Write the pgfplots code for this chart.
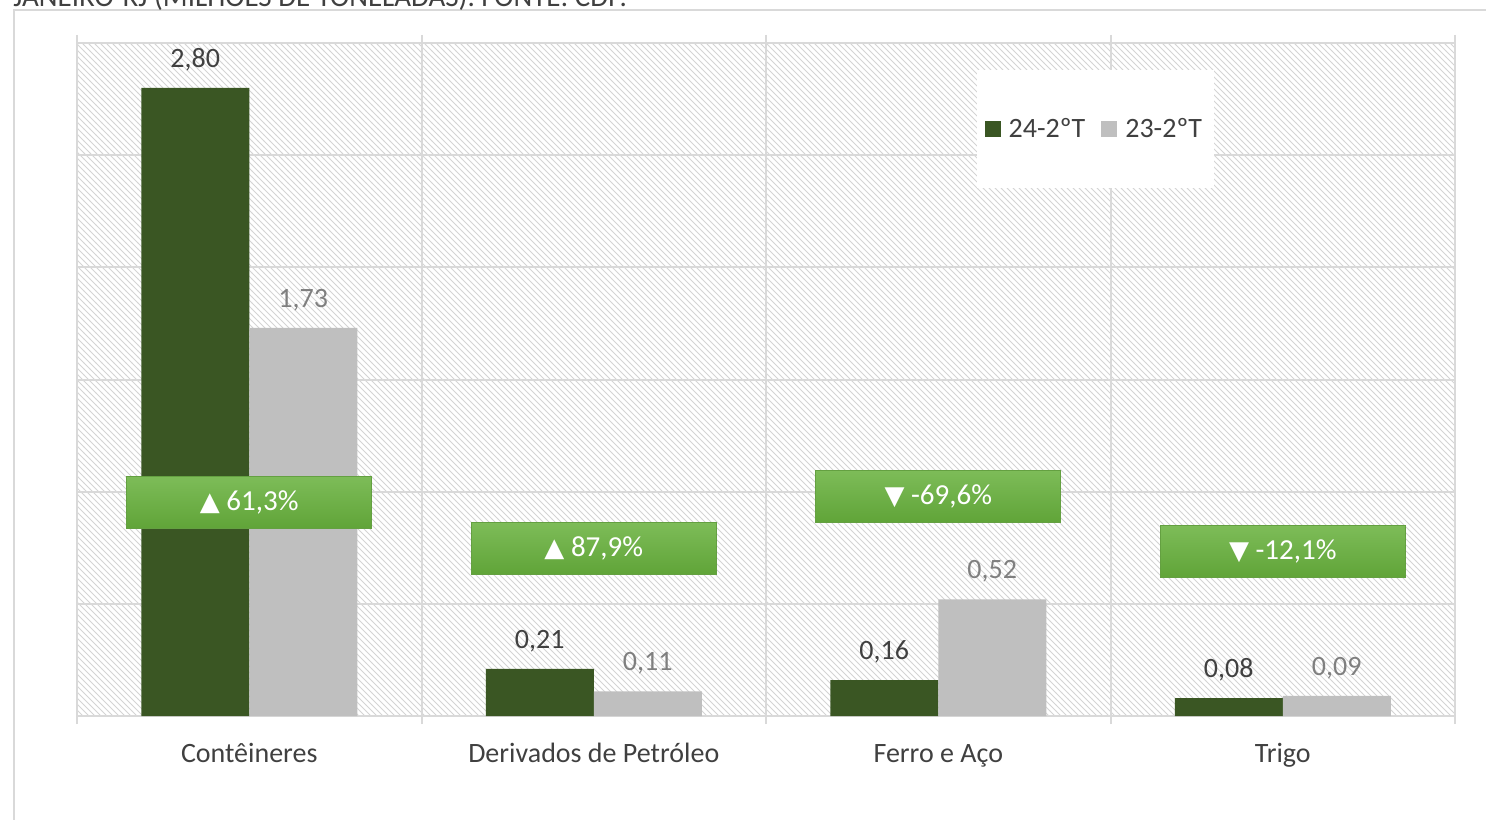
\documentclass[border=0pt]{standalone}
\usepackage{pgfplots}
\pgfplotsset{compat=1.18}
\usepackage{fontspec}
\setmainfont{Carlito}
\newfontfamily\sym{DejaVu Sans}
\usetikzlibrary{patterns}

\definecolor{c1}{RGB}{58,86,35}
\definecolor{c2}{RGB}{191,191,191}
\definecolor{gridc}{RGB}{217,217,217}
\definecolor{hatch}{RGB}{212,212,212}
\definecolor{txt}{RGB}{64,64,64}
\definecolor{txt2}{RGB}{127,127,127}
\definecolor{gtop}{RGB}{125,188,88}
\definecolor{gbot}{RGB}{96,164,56}
\definecolor{gedge}{RGB}{100,160,65}

\begin{document}
\begin{tikzpicture}[
  pct/.style={minimum width=122.5pt, minimum height=26pt, inner sep=0pt,
    top color=gtop, bottom color=gbot, draw=gedge, line width=0.4pt,
    text=white, font=\fontsize{14.5}{16}\selectfont},
]
\begin{axis}[
  scale only axis, width=689pt, height=336.5pt,
  xmin=-0.5, xmax=3.5, ymin=0, ymax=3,
  ybar=0pt, bar width=0.3135,
  clip=false,
  axis background/.style={pattern=north west lines, pattern color=hatch},
  axis line style={gridc, line width=1pt},
  xtick={0,1,2,3},
  xticklabels={Contêineres, Derivados de Petróleo, Ferro e Aço, Trigo},
  major tick length=0pt,
  xticklabel style={anchor=base, yshift=-23pt, text=txt, font=\fontsize{14}{16}\selectfont},
  extra x ticks={-0.5,0.5,1.5,2.5,3.5},
  extra x tick labels={},
  extra x tick style={grid=major, major tick length=4pt, tick align=outside,
    tick style={gridc, line width=1pt}},
  ytick={0,0.5,...,3}, yticklabels={},
  ymajorgrids,
  grid style={gridc, line width=1pt},
  nodes near coords,
  nodes near coords style={font=\fontsize{14}{16}\selectfont, anchor=center, yshift=14pt,
    /pgf/number format/fixed, /pgf/number format/fixed zerofill,
    /pgf/number format/precision=2, /pgf/number format/use comma,
    /pgf/number format/assume math mode=true},
  legend columns=2,
  legend style={at={(0.739,0.872)}, anchor=center, draw=none, fill=white,
    inner xsep=4pt, inner ysep=22pt, font=\fontsize{14}{16}\selectfont,
    text=txt, /tikz/every odd column/.append style={column sep=2pt},
    /tikz/every even column/.append style={column sep=6pt}},
  legend image code/.code={\path[#1, draw=none] (0pt,-4pt) rectangle (8pt,4pt);},
]
\addplot[fill=c1, draw=none, every node near coord/.append style={text=txt}]
  coordinates {(0,2.80)(1,0.21)(2,0.16)(3,0.08)};
\addplot[fill=c2, draw=none, every node near coord/.append style={text=txt2}]
  coordinates {(0,1.73)(1,0.11)(2,0.52)(3,0.09)};
\legend{24-2ºT, 23-2ºT}

\node[pct] at (axis cs:0,0.951) {{\sym\fontsize{13}{14}\selectfont ▲}\ 61,3\%};
\node[pct] at (axis cs:1,0.746) {{\sym\fontsize{13}{14}\selectfont ▲}\ 87,9\%};
\node[pct] at (axis cs:2,0.978) {{\sym\fontsize{13}{14}\selectfont ▼}\ -69,6\%};
\node[pct] at (axis cs:3,0.732) {{\sym\fontsize{13}{14}\selectfont ▼}\ -12,1\%};
\end{axis}
% outer frame and the caption above it, cut at the top as in the source
\draw[gridc, line width=0.8pt]
  ([xshift=-31.5pt,yshift=-60pt]current axis.south west)
  -- ([xshift=-31.5pt,yshift=16.5pt]current axis.north west)
  -- ([xshift=30pt,yshift=16.5pt]current axis.north east);
\node[anchor=base east, text=txt, font=\fontsize{14.5}{16}\selectfont]
  at ([xshift=278.5pt,yshift=18pt]current axis.north west)
  {JANEIRO-RJ (MILHÕES DE TONELADAS). FONTE: CDP.};
\pgfresetboundingbox
\useasboundingbox ([xshift=-38.5pt,yshift=-51.5pt]current axis.south west)
  rectangle ([xshift=15.5pt,yshift=21.5pt]current axis.north east);
\end{tikzpicture}
\end{document}
